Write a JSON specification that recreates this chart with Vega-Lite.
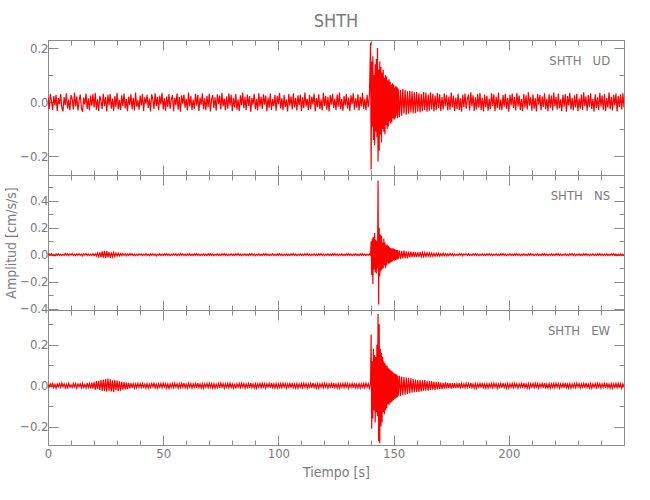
{
"$schema": "https://vega.github.io/schema/vega-lite/v6.json",
"background": "white",
"padding": {"left": 4, "top": 12, "right": 5, "bottom": 5},
"spacing": 0,
"bounds": "flush",
"data": {"values": [
{"t":0,"u":0.018,"n":-0.004,"e":0.005},{"t":0.5,"u":-0.026,"n":0.006,"e":-0.007},{"t":1,"u":0.031,"n":-0.003,"e":0.009},{"t":1.5,"u":0.004,"n":0.008,"e":-0.004},{"t":2,"u":-0.029,"n":-0.007,"e":0.011},{"t":2.5,"u":0.022,"n":0.002,"e":-0.009},{"t":3,"u":-0.012,"n":-0.009,"e":0.006},{"t":3.5,"u":0.027,"n":0.005,"e":-0.012},{"t":4,"u":-0.033,"n":-0.002,"e":0.008},{"t":4.5,"u":0.015,"n":0.007,"e":-0.005},
{"t":5,"u":-0.008,"n":-0.006,"e":0.010},{"t":5.5,"u":0.030,"n":0.004,"e":-0.008},{"t":6,"u":-0.021,"n":-0.008,"e":0.013},{"t":6.5,"u":-0.034,"n":0.003,"e":-0.006},{"t":7,"u":0.019,"n":-0.005,"e":0.009},{"t":7.5,"u":-0.011,"n":0.009,"e":-0.011},{"t":8,"u":0.033,"n":-0.004,"e":0.007},{"t":8.5,"u":-0.024,"n":0.006,"e":-0.010},{"t":9,"u":0.009,"n":-0.007,"e":0.012},{"t":9.5,"u":-0.030,"n":0.005,"e":-0.007},
{"t":10,"u":0.026,"n":-0.003,"e":0.004},{"t":10.5,"u":0.012,"n":0.008,"e":-0.009},{"t":11,"u":-0.027,"n":-0.006,"e":0.011},{"t":11.5,"u":0.035,"n":0.003,"e":-0.006},{"t":12,"u":-0.016,"n":-0.008,"e":0.010},{"t":12.5,"u":0.021,"n":0.006,"e":-0.012},{"t":13,"u":-0.031,"n":-0.004,"e":0.008},{"t":13.5,"u":0.006,"n":0.007,"e":-0.004},{"t":14,"u":0.028,"n":-0.005,"e":0.009},{"t":14.5,"u":-0.022,"n":0.004,"e":-0.010},
{"t":15,"u":-0.036,"n":-0.009,"e":0.012},{"t":15.5,"u":0.017,"n":0.006,"e":-0.008},{"t":16,"u":-0.009,"n":-0.003,"e":0.006},{"t":16.5,"u":0.032,"n":0.008,"e":-0.011},{"t":17,"u":-0.025,"n":-0.006,"e":0.013},{"t":17.5,"u":0.014,"n":0.005,"e":-0.009},{"t":18,"u":-0.030,"n":-0.007,"e":0.010},{"t":18.5,"u":0.024,"n":0.004,"e":-0.013},{"t":19,"u":-0.013,"n":-0.006,"e":0.015},{"t":19.5,"u":0.029,"n":0.007,"e":-0.014},
{"t":20,"u":-0.020,"n":-0.009,"e":0.018},{"t":20.5,"u":0.034,"n":0.006,"e":-0.020},{"t":21,"u":-0.028,"n":-0.010,"e":0.022},{"t":21.5,"u":0.010,"n":0.012,"e":-0.017},{"t":22,"u":-0.033,"n":-0.014,"e":0.024},{"t":22.5,"u":0.023,"n":0.017,"e":-0.021},{"t":23,"u":0.005,"n":-0.020,"e":0.028},{"t":23.5,"u":-0.026,"n":0.024,"e":-0.025},{"t":24,"u":0.031,"n":-0.022,"e":0.030},{"t":24.5,"u":-0.015,"n":0.029,"e":-0.027},
{"t":25,"u":0.019,"n":-0.025,"e":0.033},{"t":25.5,"u":-0.035,"n":0.027,"e":-0.030},{"t":26,"u":0.027,"n":-0.021,"e":0.035},{"t":26.5,"u":-0.011,"n":0.019,"e":-0.024},{"t":27,"u":0.030,"n":-0.023,"e":0.031},{"t":27.5,"u":-0.024,"n":0.017,"e":-0.028},{"t":28,"u":0.013,"n":-0.015,"e":0.026},{"t":28.5,"u":-0.032,"n":0.016,"e":-0.032},{"t":29,"u":0.022,"n":-0.013,"e":0.029},{"t":29.5,"u":-0.018,"n":0.012,"e":-0.022},
{"t":30,"u":0.034,"n":-0.010,"e":0.025},{"t":30.5,"u":-0.027,"n":0.011,"e":-0.027},{"t":31,"u":0.008,"n":-0.009,"e":0.021},{"t":31.5,"u":-0.029,"n":0.008,"e":-0.024},{"t":32,"u":0.025,"n":-0.007,"e":0.019},{"t":32.5,"u":-0.014,"n":0.009,"e":-0.020},{"t":33,"u":0.032,"n":-0.006,"e":0.017},{"t":33.5,"u":-0.023,"n":0.007,"e":-0.018},{"t":34,"u":0.011,"n":-0.008,"e":0.015},{"t":34.5,"u":-0.034,"n":0.005,"e":-0.016},
{"t":35,"u":0.020,"n":-0.006,"e":0.014},{"t":35.5,"u":-0.010,"n":0.008,"e":-0.013},{"t":36,"u":0.029,"n":-0.004,"e":0.012},{"t":36.5,"u":-0.026,"n":0.006,"e":-0.011},{"t":37,"u":0.016,"n":-0.007,"e":0.010},{"t":37.5,"u":-0.031,"n":0.005,"e":-0.012},{"t":38,"u":0.035,"n":-0.008,"e":0.009},{"t":38.5,"u":-0.017,"n":0.004,"e":-0.010},{"t":39,"u":0.007,"n":-0.006,"e":0.011},{"t":39.5,"u":-0.028,"n":0.007,"e":-0.008},
{"t":40,"u":0.024,"n":-0.003,"e":0.010},{"t":40.5,"u":-0.012,"n":0.006,"e":-0.009},{"t":41,"u":0.031,"n":-0.007,"e":0.012},{"t":41.5,"u":-0.033,"n":0.004,"e":-0.007},{"t":42,"u":0.018,"n":-0.005,"e":0.008},{"t":42.5,"u":-0.006,"n":0.008,"e":-0.011},{"t":43,"u":0.027,"n":-0.006,"e":0.010},{"t":43.5,"u":-0.022,"n":0.003,"e":-0.012},{"t":44,"u":0.013,"n":-0.008,"e":0.007},{"t":44.5,"u":-0.035,"n":0.006,"e":-0.009},
{"t":45,"u":0.029,"n":-0.004,"e":0.011},{"t":45.5,"u":0.010,"n":0.007,"e":-0.006},{"t":46,"u":-0.025,"n":-0.006,"e":0.012},{"t":46.5,"u":0.033,"n":0.005,"e":-0.010},{"t":47,"u":-0.015,"n":-0.009,"e":0.008},{"t":47.5,"u":0.020,"n":0.004,"e":-0.012},{"t":48,"u":-0.030,"n":-0.005,"e":0.009},{"t":48.5,"u":0.024,"n":0.008,"e":-0.008},{"t":49,"u":-0.009,"n":-0.006,"e":0.011},{"t":49.5,"u":0.034,"n":0.003,"e":-0.010},
{"t":50,"u":-0.027,"n":-0.007,"e":0.012},{"t":50.5,"u":0.014,"n":0.006,"e":-0.007},{"t":51,"u":-0.032,"n":-0.004,"e":0.010},{"t":51.5,"u":0.021,"n":0.008,"e":-0.011},{"t":52,"u":-0.018,"n":-0.006,"e":0.008},{"t":52.5,"u":0.030,"n":0.005,"e":-0.013},{"t":53,"u":-0.024,"n":-0.008,"e":0.009},{"t":53.5,"u":0.008,"n":0.004,"e":-0.008},{"t":54,"u":0.026,"n":-0.005,"e":0.011},{"t":54.5,"u":-0.034,"n":0.007,"e":-0.010},
{"t":55,"u":0.016,"n":-0.003,"e":0.012},{"t":55.5,"u":-0.011,"n":0.006,"e":-0.007},{"t":56,"u":0.032,"n":-0.008,"e":0.009},{"t":56.5,"u":-0.028,"n":0.005,"e":-0.012},{"t":57,"u":0.019,"n":-0.006,"e":0.010},{"t":57.5,"u":-0.036,"n":0.008,"e":-0.009},{"t":58,"u":0.025,"n":-0.004,"e":0.011},{"t":58.5,"u":-0.007,"n":0.007,"e":-0.008},{"t":59,"u":0.028,"n":-0.006,"e":0.013},{"t":59.5,"u":-0.021,"n":0.004,"e":-0.010},
{"t":60,"u":0.012,"n":-0.008,"e":0.008},{"t":60.5,"u":-0.031,"n":0.006,"e":-0.011},{"t":61,"u":0.035,"n":-0.005,"e":0.012},{"t":61.5,"u":-0.016,"n":0.008,"e":-0.007},{"t":62,"u":0.022,"n":-0.006,"e":0.010},{"t":62.5,"u":-0.029,"n":0.003,"e":-0.012},{"t":63,"u":0.009,"n":-0.007,"e":0.009},{"t":63.5,"u":-0.025,"n":0.006,"e":-0.008},{"t":64,"u":0.030,"n":-0.004,"e":0.011},{"t":64.5,"u":-0.013,"n":0.008,"e":-0.010},
{"t":65,"u":0.027,"n":-0.006,"e":0.013},{"t":65.5,"u":-0.033,"n":0.005,"e":-0.009},{"t":66,"u":0.017,"n":-0.008,"e":0.008},{"t":66.5,"u":-0.010,"n":0.004,"e":-0.011},{"t":67,"u":0.033,"n":-0.005,"e":0.010},{"t":67.5,"u":-0.026,"n":0.007,"e":-0.012},{"t":68,"u":0.014,"n":-0.006,"e":0.009},{"t":68.5,"u":-0.030,"n":0.003,"e":-0.007},{"t":69,"u":0.023,"n":-0.007,"e":0.011},{"t":69.5,"u":-0.019,"n":0.006,"e":-0.010},
{"t":70,"u":0.031,"n":-0.004,"e":0.012},{"t":70.5,"u":-0.035,"n":0.008,"e":-0.008},{"t":71,"u":0.011,"n":-0.006,"e":0.010},{"t":71.5,"u":0.026,"n":0.005,"e":-0.011},{"t":72,"u":-0.022,"n":-0.008,"e":0.009},{"t":72.5,"u":0.018,"n":0.004,"e":-0.012},{"t":73,"u":-0.032,"n":-0.005,"e":0.008},{"t":73.5,"u":0.029,"n":0.007,"e":-0.009},{"t":74,"u":-0.008,"n":-0.006,"e":0.011},{"t":74.5,"u":0.024,"n":0.003,"e":-0.010},
{"t":75,"u":-0.027,"n":-0.007,"e":0.013},{"t":75.5,"u":0.034,"n":0.006,"e":-0.007},{"t":76,"u":-0.015,"n":-0.004,"e":0.010},{"t":76.5,"u":0.013,"n":0.008,"e":-0.012},{"t":77,"u":-0.030,"n":-0.006,"e":0.009},{"t":77.5,"u":0.021,"n":0.005,"e":-0.008},{"t":78,"u":-0.024,"n":-0.008,"e":0.011},{"t":78.5,"u":0.032,"n":0.004,"e":-0.010},{"t":79,"u":-0.012,"n":-0.005,"e":0.012},{"t":79.5,"u":0.027,"n":0.007,"e":-0.009},
{"t":80,"u":-0.034,"n":-0.006,"e":0.008},{"t":80.5,"u":0.016,"n":0.003,"e":-0.011},{"t":81,"u":-0.020,"n":-0.007,"e":0.010},{"t":81.5,"u":0.030,"n":0.006,"e":-0.013},{"t":82,"u":-0.028,"n":-0.004,"e":0.009},{"t":82.5,"u":0.010,"n":0.008,"e":-0.008},{"t":83,"u":-0.033,"n":-0.006,"e":0.011},{"t":83.5,"u":0.025,"n":0.005,"e":-0.010},{"t":84,"u":-0.011,"n":-0.008,"e":0.012},{"t":84.5,"u":0.035,"n":0.004,"e":-0.007},
{"t":85,"u":-0.023,"n":-0.005,"e":0.010},{"t":85.5,"u":0.019,"n":0.007,"e":-0.012},{"t":86,"u":-0.029,"n":-0.006,"e":0.009},{"t":86.5,"u":0.028,"n":0.003,"e":-0.008},{"t":87,"u":-0.014,"n":-0.007,"e":0.011},{"t":87.5,"u":0.022,"n":0.006,"e":-0.010},{"t":88,"u":-0.036,"n":-0.004,"e":0.013},{"t":88.5,"u":0.015,"n":0.008,"e":-0.009},{"t":89,"u":-0.009,"n":-0.006,"e":0.008},{"t":89.5,"u":0.031,"n":0.005,"e":-0.011},
{"t":90,"u":-0.026,"n":-0.008,"e":0.010},{"t":90.5,"u":0.012,"n":0.004,"e":-0.012},{"t":91,"u":-0.031,"n":-0.005,"e":0.009},{"t":91.5,"u":0.033,"n":0.007,"e":-0.008},{"t":92,"u":-0.017,"n":-0.006,"e":0.011},{"t":92.5,"u":0.020,"n":0.003,"e":-0.010},{"t":93,"u":-0.025,"n":-0.007,"e":0.012},{"t":93.5,"u":0.029,"n":0.006,"e":-0.007},{"t":94,"u":-0.010,"n":-0.004,"e":0.010},{"t":94.5,"u":0.024,"n":0.008,"e":-0.012},
{"t":95,"u":-0.034,"n":-0.006,"e":0.009},{"t":95.5,"u":0.017,"n":0.005,"e":-0.008},{"t":96,"u":-0.021,"n":-0.008,"e":0.011},{"t":96.5,"u":0.032,"n":0.004,"e":-0.010},{"t":97,"u":-0.029,"n":-0.005,"e":0.013},{"t":97.5,"u":0.011,"n":0.007,"e":-0.009},{"t":98,"u":-0.015,"n":-0.006,"e":0.008},{"t":98.5,"u":0.027,"n":0.003,"e":-0.011},{"t":99,"u":-0.032,"n":-0.007,"e":0.010},{"t":99.5,"u":0.023,"n":0.006,"e":-0.012},
{"t":100,"u":-0.008,"n":-0.004,"e":0.009},{"t":100.5,"u":0.034,"n":0.008,"e":-0.008},{"t":101,"u":-0.024,"n":-0.006,"e":0.011},{"t":101.5,"u":0.014,"n":0.005,"e":-0.010},{"t":102,"u":-0.030,"n":-0.008,"e":0.012},{"t":102.5,"u":0.026,"n":0.004,"e":-0.007},{"t":103,"u":-0.018,"n":-0.005,"e":0.010},{"t":103.5,"u":0.009,"n":0.007,"e":-0.012},{"t":104,"u":-0.035,"n":-0.006,"e":0.009},{"t":104.5,"u":0.030,"n":0.003,"e":-0.008},
{"t":105,"u":-0.013,"n":-0.007,"e":0.011},{"t":105.5,"u":0.021,"n":0.006,"e":-0.010},{"t":106,"u":-0.027,"n":-0.004,"e":0.013},{"t":106.5,"u":0.033,"n":0.008,"e":-0.009},{"t":107,"u":-0.020,"n":-0.006,"e":0.008},{"t":107.5,"u":0.016,"n":0.005,"e":-0.011},{"t":108,"u":-0.031,"n":-0.008,"e":0.010},{"t":108.5,"u":0.025,"n":0.004,"e":-0.012},{"t":109,"u":-0.011,"n":-0.005,"e":0.009},{"t":109.5,"u":0.028,"n":0.007,"e":-0.008},
{"t":110,"u":-0.033,"n":-0.006,"e":0.011},{"t":110.5,"u":0.018,"n":0.003,"e":-0.010},{"t":111,"u":-0.023,"n":-0.007,"e":0.012},{"t":111.5,"u":0.035,"n":0.006,"e":-0.007},{"t":112,"u":-0.016,"n":-0.004,"e":0.010},{"t":112.5,"u":0.012,"n":0.008,"e":-0.012},{"t":113,"u":-0.029,"n":-0.006,"e":0.009},{"t":113.5,"u":0.027,"n":0.005,"e":-0.008},{"t":114,"u":-0.026,"n":-0.008,"e":0.011},{"t":114.5,"u":0.020,"n":0.004,"e":-0.010},
{"t":115,"u":-0.009,"n":-0.005,"e":0.013},{"t":115.5,"u":0.032,"n":0.007,"e":-0.009},{"t":116,"u":-0.034,"n":-0.006,"e":0.008},{"t":116.5,"u":0.015,"n":0.003,"e":-0.011},{"t":117,"u":-0.019,"n":-0.007,"e":0.010},{"t":117.5,"u":0.029,"n":0.006,"e":-0.012},{"t":118,"u":-0.025,"n":-0.004,"e":0.009},{"t":118.5,"u":0.010,"n":0.008,"e":-0.008},{"t":119,"u":-0.031,"n":-0.006,"e":0.011},{"t":119.5,"u":0.034,"n":0.005,"e":-0.010},
{"t":120,"u":-0.014,"n":-0.008,"e":0.012},{"t":120.5,"u":0.023,"n":0.004,"e":-0.007},{"t":121,"u":-0.028,"n":-0.005,"e":0.010},{"t":121.5,"u":0.019,"n":0.007,"e":-0.012},{"t":122,"u":-0.035,"n":-0.006,"e":0.009},{"t":122.5,"u":0.026,"n":0.003,"e":-0.008},{"t":123,"u":-0.010,"n":-0.007,"e":0.011},{"t":123.5,"u":0.031,"n":0.006,"e":-0.010},{"t":124,"u":-0.022,"n":-0.004,"e":0.013},{"t":124.5,"u":0.013,"n":0.008,"e":-0.009},
{"t":125,"u":-0.030,"n":-0.006,"e":0.008},{"t":125.5,"u":0.028,"n":0.005,"e":-0.011},{"t":126,"u":-0.017,"n":-0.008,"e":0.010},{"t":126.5,"u":0.035,"n":0.004,"e":-0.012},{"t":127,"u":-0.026,"n":-0.005,"e":0.009},{"t":127.5,"u":0.011,"n":0.007,"e":-0.008},{"t":128,"u":-0.032,"n":-0.006,"e":0.011},{"t":128.5,"u":0.022,"n":0.003,"e":-0.010},{"t":129,"u":-0.013,"n":-0.007,"e":0.012},{"t":129.5,"u":0.030,"n":0.006,"e":-0.007},
{"t":130,"u":-0.024,"n":-0.004,"e":0.010},{"t":130.5,"u":0.017,"n":0.008,"e":-0.012},{"t":131,"u":-0.034,"n":-0.006,"e":0.009},{"t":131.5,"u":0.025,"n":0.005,"e":-0.008},{"t":132,"u":-0.008,"n":-0.008,"e":0.011},{"t":132.5,"u":0.033,"n":0.004,"e":-0.010},{"t":133,"u":-0.028,"n":-0.005,"e":0.013},{"t":133.5,"u":0.014,"n":0.007,"e":-0.009},{"t":134,"u":-0.021,"n":-0.006,"e":0.008},{"t":134.5,"u":0.029,"n":0.003,"e":-0.011},
{"t":135,"u":-0.031,"n":-0.007,"e":0.010},{"t":135.5,"u":0.020,"n":0.006,"e":-0.012},{"t":136,"u":-0.016,"n":-0.004,"e":0.009},{"t":136.5,"u":0.034,"n":0.008,"e":-0.008},{"t":137,"u":-0.025,"n":-0.006,"e":0.011},{"t":137.5,"u":0.012,"n":0.005,"e":-0.010},{"t":138,"u":-0.030,"n":-0.008,"e":0.012},{"t":138.5,"u":0.027,"n":0.004,"e":-0.007},{"t":139,"u":-0.019,"n":-0.005,"e":0.010},{"t":139.5,"u":0.023,"n":0.007,"e":-0.012},
{"t":140,"u":0.220,"n":-0.005,"e":0.008},{"t":140.25,"u":-0.250,"n":0.100,"e":0.250},{"t":140.5,"u":0.150,"n":-0.150,"e":-0.210},{"t":140.75,"u":-0.090,"n":0.120,"e":0.120},{"t":141,"u":0.170,"n":-0.220,"e":-0.160},{"t":141.25,"u":-0.140,"n":0.130,"e":0.180},{"t":141.5,"u":0.100,"n":-0.110,"e":-0.120},{"t":141.75,"u":-0.160,"n":0.160,"e":0.150},
{"t":142,"u":0.140,"n":-0.130,"e":-0.180},{"t":142.25,"u":-0.110,"n":0.110,"e":0.140},{"t":142.5,"u":0.160,"n":-0.140,"e":-0.130},{"t":142.75,"u":-0.130,"n":0.100,"e":0.200},{"t":143,"u":0.200,"n":-0.100,"e":-0.150},{"t":143.25,"u":-0.220,"n":0.550,"e":0.350},{"t":143.5,"u":0.120,"n":-0.370,"e":-0.270},{"t":143.75,"u":-0.180,"n":0.200,"e":0.300},
{"t":144,"u":0.150,"n":-0.160,"e":-0.280},{"t":144.25,"u":-0.120,"n":0.150,"e":0.180},{"t":144.5,"u":0.130,"n":-0.120,"e":-0.200},{"t":144.75,"u":-0.150,"n":0.140,"e":0.160},{"t":145,"u":0.110,"n":-0.110,"e":-0.180},{"t":145.25,"u":-0.100,"n":0.090,"e":0.140},{"t":145.5,"u":0.120,"n":-0.100,"e":-0.130},{"t":145.75,"u":-0.110,"n":0.120,"e":0.120},
{"t":146,"u":0.090,"n":-0.080,"e":-0.140},{"t":146.25,"u":-0.120,"n":0.090,"e":0.110},{"t":146.5,"u":0.100,"n":-0.100,"e":-0.120},{"t":146.75,"u":-0.085,"n":0.070,"e":0.100},{"t":147,"u":0.095,"n":-0.080,"e":-0.110},{"t":147.25,"u":-0.100,"n":0.075,"e":0.095},{"t":147.5,"u":0.080,"n":-0.060,"e":-0.090},{"t":147.75,"u":-0.090,"n":0.065,"e":0.085},
{"t":148,"u":0.085,"n":-0.070,"e":-0.095},{"t":148.25,"u":-0.070,"n":0.055,"e":0.080},{"t":148.5,"u":0.075,"n":-0.060,"e":-0.085},{"t":148.75,"u":-0.080,"n":0.050,"e":0.075},{"t":149,"u":0.065,"n":-0.055,"e":-0.080},{"t":149.25,"u":-0.075,"n":0.045,"e":0.070},{"t":149.5,"u":0.070,"n":-0.050,"e":-0.075},{"t":149.75,"u":-0.060,"n":0.048,"e":0.065},
{"t":150,"u":0.065,"n":-0.040,"e":-0.070},{"t":150.25,"u":-0.065,"n":0.042,"e":0.060},{"t":150.5,"u":0.055,"n":-0.045,"e":-0.065},{"t":150.75,"u":-0.060,"n":0.038,"e":0.058},{"t":151,"u":0.060,"n":-0.040,"e":-0.060},{"t":151.25,"u":-0.050,"n":0.035,"e":0.055},{"t":151.5,"u":0.055,"n":-0.036,"e":-0.057},{"t":151.75,"u":-0.060,"n":0.034,"e":0.050},
{"t":152,"u":0.050,"n":-0.032,"e":-0.052},{"t":152.5,"u":-0.055,"n":0.030,"e":0.048},{"t":153,"u":0.045,"n":-0.032,"e":-0.050},{"t":153.5,"u":-0.050,"n":0.028,"e":0.045},{"t":154,"u":0.048,"n":-0.027,"e":-0.046},{"t":154.5,"u":-0.042,"n":0.030,"e":0.042},{"t":155,"u":0.045,"n":-0.025,"e":-0.044},{"t":155.5,"u":-0.047,"n":0.024,"e":0.040},
{"t":156,"u":0.040,"n":-0.026,"e":-0.041},{"t":156.5,"u":-0.043,"n":0.022,"e":0.038},{"t":157,"u":0.042,"n":-0.021,"e":-0.037},{"t":157.5,"u":-0.038,"n":0.023,"e":0.036},{"t":158,"u":0.040,"n":-0.019,"e":-0.034},{"t":158.5,"u":-0.041,"n":0.020,"e":0.033},{"t":159,"u":0.036,"n":-0.018,"e":-0.032},{"t":159.5,"u":-0.040,"n":0.019,"e":0.030},
{"t":160,"u":0.037,"n":-0.017,"e":-0.031},{"t":160.5,"u":-0.036,"n":0.017,"e":0.029},{"t":161,"u":0.033,"n":-0.016,"e":-0.030},{"t":161.5,"u":-0.038,"n":0.018,"e":0.027},{"t":162,"u":0.030,"n":-0.015,"e":-0.028},{"t":162.5,"u":-0.034,"n":0.016,"e":0.026},{"t":163,"u":0.037,"n":-0.014,"e":-0.025},{"t":163.5,"u":-0.029,"n":0.015,"e":0.027},{"t":164,"u":0.035,"n":-0.013,"e":-0.024},{"t":164.5,"u":-0.036,"n":0.014,"e":0.023},
{"t":165,"u":0.028,"n":-0.012,"e":-0.025},{"t":165.5,"u":-0.032,"n":0.013,"e":0.022},{"t":166,"u":0.036,"n":-0.012,"e":-0.021},{"t":166.5,"u":-0.027,"n":0.011,"e":0.023},{"t":167,"u":0.031,"n":-0.012,"e":-0.020},{"t":167.5,"u":-0.035,"n":0.010,"e":0.019},{"t":168,"u":0.024,"n":-0.011,"e":-0.021},{"t":168.5,"u":-0.030,"n":0.010,"e":0.018},{"t":169,"u":0.034,"n":-0.009,"e":-0.017},{"t":169.5,"u":-0.022,"n":0.011,"e":0.019},
{"t":170,"u":0.029,"n":-0.010,"e":-0.016},{"t":170.5,"u":-0.033,"n":0.008,"e":0.015},{"t":171,"u":0.019,"n":-0.009,"e":-0.017},{"t":171.5,"u":-0.027,"n":0.010,"e":0.014},{"t":172,"u":0.032,"n":-0.008,"e":-0.015},{"t":172.5,"u":-0.015,"n":0.007,"e":0.016},{"t":173,"u":0.026,"n":-0.009,"e":-0.013},{"t":173.5,"u":-0.031,"n":0.006,"e":0.014},{"t":174,"u":0.021,"n":-0.008,"e":-0.012},{"t":174.5,"u":-0.028,"n":0.009,"e":0.013},
{"t":175,"u":0.035,"n":-0.005,"e":-0.014},{"t":175.5,"u":-0.020,"n":0.007,"e":0.012},{"t":176,"u":0.024,"n":-0.008,"e":-0.011},{"t":176.5,"u":-0.033,"n":0.005,"e":0.013},{"t":177,"u":0.017,"n":-0.007,"e":-0.012},{"t":177.5,"u":-0.025,"n":0.004,"e":0.010},{"t":178,"u":0.031,"n":-0.006,"e":-0.011},{"t":178.5,"u":-0.029,"n":0.008,"e":0.012},{"t":179,"u":0.014,"n":-0.003,"e":-0.009},{"t":179.5,"u":-0.036,"n":0.006,"e":0.011},
{"t":180,"u":0.027,"n":-0.009,"e":-0.012},{"t":180.5,"u":-0.018,"n":0.005,"e":0.009},{"t":181,"u":0.032,"n":-0.004,"e":-0.010},{"t":181.5,"u":-0.024,"n":0.007,"e":0.012},{"t":182,"u":0.010,"n":-0.006,"e":-0.008},{"t":182.5,"u":0.028,"n":0.008,"e":0.011},{"t":183,"u":-0.031,"n":-0.005,"e":-0.010},{"t":183.5,"u":0.036,"n":0.003,"e":0.013},{"t":184,"u":-0.015,"n":-0.007,"e":-0.009},{"t":184.5,"u":0.025,"n":0.006,"e":0.008},
{"t":185,"u":-0.033,"n":-0.004,"e":-0.011},{"t":185.5,"u":0.018,"n":0.008,"e":0.010},{"t":186,"u":-0.027,"n":-0.006,"e":-0.012},{"t":186.5,"u":0.030,"n":0.005,"e":0.009},{"t":187,"u":-0.021,"n":-0.008,"e":-0.008},{"t":187.5,"u":0.034,"n":0.004,"e":0.011},{"t":188,"u":-0.029,"n":-0.005,"e":-0.010},{"t":188.5,"u":0.016,"n":0.007,"e":0.013},{"t":189,"u":-0.035,"n":-0.006,"e":-0.009},{"t":189.5,"u":0.028,"n":0.003,"e":0.008},
{"t":190,"u":-0.019,"n":-0.007,"e":-0.011},{"t":190.5,"u":0.023,"n":0.006,"e":0.010},{"t":191,"u":-0.032,"n":-0.004,"e":-0.012},{"t":191.5,"u":0.012,"n":0.008,"e":0.009},{"t":192,"u":-0.026,"n":-0.006,"e":-0.008},{"t":192.5,"u":0.033,"n":0.005,"e":0.011},{"t":193,"u":-0.014,"n":-0.008,"e":-0.010},{"t":193.5,"u":0.029,"n":0.004,"e":0.012},{"t":194,"u":-0.034,"n":-0.005,"e":-0.007},{"t":194.5,"u":0.020,"n":0.007,"e":0.010},
{"t":195,"u":-0.023,"n":-0.006,"e":-0.012},{"t":195.5,"u":0.035,"n":0.003,"e":0.009},{"t":196,"u":-0.028,"n":-0.007,"e":-0.008},{"t":196.5,"u":0.009,"n":0.006,"e":0.011},{"t":197,"u":-0.030,"n":-0.004,"e":-0.010},{"t":197.5,"u":0.026,"n":0.008,"e":0.013},{"t":198,"u":-0.017,"n":-0.006,"e":-0.009},{"t":198.5,"u":0.031,"n":0.005,"e":0.008},{"t":199,"u":-0.025,"n":-0.008,"e":-0.011},{"t":199.5,"u":0.015,"n":0.004,"e":0.010},
{"t":200,"u":-0.036,"n":-0.005,"e":-0.012},{"t":200.5,"u":0.027,"n":0.007,"e":0.009},{"t":201,"u":-0.012,"n":-0.006,"e":-0.008},{"t":201.5,"u":0.032,"n":0.003,"e":0.011},{"t":202,"u":-0.022,"n":-0.007,"e":-0.010},{"t":202.5,"u":0.019,"n":0.006,"e":0.012},{"t":203,"u":-0.031,"n":-0.004,"e":-0.007},{"t":203.5,"u":0.034,"n":0.008,"e":0.010},{"t":204,"u":-0.016,"n":-0.006,"e":-0.012},{"t":204.5,"u":0.024,"n":0.005,"e":0.009},
{"t":205,"u":-0.029,"n":-0.008,"e":-0.008},{"t":205.5,"u":0.011,"n":0.004,"e":0.011},{"t":206,"u":-0.033,"n":-0.005,"e":-0.010},{"t":206.5,"u":0.030,"n":0.007,"e":0.013},{"t":207,"u":-0.020,"n":-0.006,"e":-0.009},{"t":207.5,"u":0.025,"n":0.003,"e":0.008},{"t":208,"u":-0.027,"n":-0.007,"e":-0.011},{"t":208.5,"u":0.036,"n":0.006,"e":0.010},{"t":209,"u":-0.013,"n":-0.004,"e":-0.012},{"t":209.5,"u":0.018,"n":0.008,"e":0.009},
{"t":210,"u":-0.032,"n":-0.006,"e":-0.008},{"t":210.5,"u":0.028,"n":0.005,"e":0.011},{"t":211,"u":-0.024,"n":-0.008,"e":-0.010},{"t":211.5,"u":0.014,"n":0.004,"e":0.012},{"t":212,"u":-0.035,"n":-0.005,"e":-0.007},{"t":212.5,"u":0.031,"n":0.007,"e":0.010},{"t":213,"u":-0.010,"n":-0.006,"e":-0.012},{"t":213.5,"u":0.026,"n":0.003,"e":0.009},{"t":214,"u":-0.030,"n":-0.007,"e":-0.008},{"t":214.5,"u":0.021,"n":0.006,"e":0.011},
{"t":215,"u":-0.018,"n":-0.004,"e":-0.010},{"t":215.5,"u":0.033,"n":0.008,"e":0.013},{"t":216,"u":-0.026,"n":-0.006,"e":-0.009},{"t":216.5,"u":0.012,"n":0.005,"e":0.008},{"t":217,"u":-0.034,"n":-0.008,"e":-0.011},{"t":217.5,"u":0.029,"n":0.004,"e":0.010},{"t":218,"u":-0.021,"n":-0.005,"e":-0.012},{"t":218.5,"u":0.024,"n":0.007,"e":0.009},{"t":219,"u":-0.031,"n":-0.006,"e":-0.008},{"t":219.5,"u":0.035,"n":0.003,"e":0.011},
{"t":220,"u":-0.015,"n":-0.007,"e":-0.010},{"t":220.5,"u":0.019,"n":0.006,"e":0.012},{"t":221,"u":-0.028,"n":-0.004,"e":-0.007},{"t":221.5,"u":0.032,"n":0.008,"e":0.010},{"t":222,"u":-0.023,"n":-0.006,"e":-0.012},{"t":222.5,"u":0.010,"n":0.005,"e":0.009},{"t":223,"u":-0.033,"n":-0.008,"e":-0.008},{"t":223.5,"u":0.027,"n":0.004,"e":0.011},{"t":224,"u":-0.017,"n":-0.005,"e":-0.010},{"t":224.5,"u":0.030,"n":0.007,"e":0.013},
{"t":225,"u":-0.036,"n":-0.006,"e":-0.009},{"t":225.5,"u":0.022,"n":0.003,"e":0.008},{"t":226,"u":-0.012,"n":-0.007,"e":-0.011},{"t":226.5,"u":0.034,"n":0.006,"e":0.010},{"t":227,"u":-0.027,"n":-0.004,"e":-0.012},{"t":227.5,"u":0.016,"n":0.008,"e":0.009},{"t":228,"u":-0.030,"n":-0.006,"e":-0.008},{"t":228.5,"u":0.025,"n":0.005,"e":0.011},{"t":229,"u":-0.020,"n":-0.008,"e":-0.010},{"t":229.5,"u":0.031,"n":0.004,"e":0.012},
{"t":230,"u":-0.034,"n":-0.005,"e":-0.007},{"t":230.5,"u":0.013,"n":0.007,"e":0.010},{"t":231,"u":-0.024,"n":-0.006,"e":-0.012},{"t":231.5,"u":0.028,"n":0.003,"e":0.009},{"t":232,"u":-0.029,"n":-0.007,"e":-0.008},{"t":232.5,"u":0.036,"n":0.006,"e":0.011},{"t":233,"u":-0.014,"n":-0.004,"e":-0.010},{"t":233.5,"u":0.021,"n":0.008,"e":0.013},{"t":234,"u":-0.032,"n":-0.006,"e":-0.009},{"t":234.5,"u":0.026,"n":0.005,"e":0.008},
{"t":235,"u":-0.019,"n":-0.008,"e":-0.011},{"t":235.5,"u":0.033,"n":0.004,"e":0.010},{"t":236,"u":-0.025,"n":-0.005,"e":-0.012},{"t":236.5,"u":0.011,"n":0.007,"e":0.009},{"t":237,"u":-0.035,"n":-0.006,"e":-0.008},{"t":237.5,"u":0.029,"n":0.003,"e":0.011},{"t":238,"u":-0.022,"n":-0.007,"e":-0.010},{"t":238.5,"u":0.018,"n":0.006,"e":0.012},{"t":239,"u":-0.030,"n":-0.004,"e":-0.007},{"t":239.5,"u":0.034,"n":0.008,"e":0.010},
{"t":240,"u":-0.016,"n":-0.006,"e":-0.012},{"t":240.5,"u":0.024,"n":0.005,"e":0.009},{"t":241,"u":-0.028,"n":-0.008,"e":-0.008},{"t":241.5,"u":0.030,"n":0.004,"e":0.011},{"t":242,"u":-0.033,"n":-0.005,"e":-0.010},{"t":242.5,"u":0.015,"n":0.007,"e":0.013},{"t":243,"u":-0.021,"n":-0.006,"e":-0.009},{"t":243.5,"u":0.035,"n":0.003,"e":0.008},{"t":244,"u":-0.026,"n":-0.007,"e":-0.011},{"t":244.5,"u":0.020,"n":0.006,"e":0.010},
{"t":245,"u":-0.031,"n":-0.004,"e":-0.012},{"t":245.5,"u":0.027,"n":0.008,"e":0.009},{"t":246,"u":-0.012,"n":-0.006,"e":-0.008},{"t":246.5,"u":0.032,"n":0.005,"e":0.011},{"t":247,"u":-0.035,"n":-0.008,"e":-0.010},{"t":247.5,"u":0.023,"n":0.004,"e":0.012},{"t":248,"u":-0.018,"n":-0.005,"e":-0.007},{"t":248.5,"u":0.029,"n":0.007,"e":0.010},{"t":249,"u":-0.027,"n":-0.006,"e":-0.012},{"t":249.5,"u":0.033,"n":0.003,"e":0.009},
{"t":250,"u":-0.020,"n":-0.007,"e":-0.008}
]},
"config": {
  "view": {"stroke": "#8a8a8a"},
  "axis": {
    "domainColor": "#8a8a8a", "tickColor": "#8a8a8a", "labelColor": "#7a7a7a", "titleColor": "#7a7a7a",
    "labelFont": "DejaVu Sans Condensed, DejaVu Sans, sans-serif",
    "titleFont": "DejaVu Sans Condensed, DejaVu Sans, sans-serif",
    "labelFontSize": 13, "titleFontSize": 14, "titleFontWeight": "normal",
    "grid": false, "labelOverlap": false, "labelBound": false, "labelFlush": false,
    "tickWidth": 1, "domainWidth": 1
  }
},
"vconcat": [
{
  "width": 576, "height": 135,
  "title": {"text": "SHTH", "font": "DejaVu Sans Condensed, DejaVu Sans, sans-serif", "fontSize": 18, "fontWeight": "normal", "color": "#7a7a7a", "anchor": "middle", "offset": 9},
  "layer": [
    {
      "mark": {"type": "line", "color": "#ff0000", "strokeWidth": 1.2, "clip": true},
      "encoding": {
        "x": {"field": "t", "type": "quantitative", "scale": {"domain": [0, 250], "nice": false, "zero": false},
              "axis": {"orient": "bottom", "values": [0,10,20,30,40,50,60,70,80,90,100,110,120,130,140,150,160,170,180,190,200,210,220,230,240], "labels": false, "title": null,
                       "tickSize": {"condition": {"test": "datum.value % 50 === 0", "value": -10}, "value": -5}}},
        "y": {"field": "u", "type": "quantitative", "scale": {"domain": [-0.27, 0.23], "nice": false, "zero": false},
              "axis": {"orient": "left", "values": [-0.2,-0.1,0,0.1,0.2], "title": null, "labelPadding": 10,
                       "labelExpr": "abs(round(datum.value*10)) % 2 === 0 ? format(datum.value, '.1f') : ''",
                       "tickSize": {"condition": {"test": "abs(round(datum.value*10)) % 2 === 0", "value": -10}, "value": -5}}}
      }
    },
    {
      "data": {"values": [{}]},
      "mark": {"type": "text", "align": "right", "baseline": "middle", "font": "DejaVu Sans Condensed, DejaVu Sans, sans-serif", "fontSize": 13, "color": "#7a7a7a"},
      "encoding": {
        "x": {"datum": 244, "type": "quantitative",
              "axis": {"orient": "top", "values": [0,10,20,30,40,50,60,70,80,90,100,110,120,130,140,150,160,170,180,190,200,210,220,230,240], "labels": false, "title": null,
                       "tickSize": {"condition": {"test": "datum.value % 50 === 0", "value": -10}, "value": -5}}},
        "y": {"datum": 0.152, "type": "quantitative",
              "axis": {"orient": "right", "values": [-0.2,-0.1,0,0.1,0.2], "labels": false, "title": null,
                       "tickSize": {"condition": {"test": "abs(round(datum.value*10)) % 2 === 0", "value": -10}, "value": -5}}},
        "text": {"value": "SHTH\u00a0\u00a0\u00a0UD"}
      }
    }
  ]
},
{
  "width": 576, "height": 135,
  "layer": [
    {
      "mark": {"type": "line", "color": "#ff0000", "strokeWidth": 1.2, "clip": true},
      "encoding": {
        "x": {"field": "t", "type": "quantitative", "scale": {"domain": [0, 250], "nice": false, "zero": false},
              "axis": {"orient": "bottom", "values": [0,10,20,30,40,50,60,70,80,90,100,110,120,130,140,150,160,170,180,190,200,210,220,230,240], "labels": false, "title": null,
                       "tickSize": {"condition": {"test": "datum.value % 50 === 0", "value": -10}, "value": -5}}},
        "y": {"field": "n", "type": "quantitative", "scale": {"domain": [-0.41, 0.59], "nice": false, "zero": false},
              "axis": {"orient": "left", "values": [-0.4,-0.3,-0.2,-0.1,0,0.1,0.2,0.3,0.4,0.5], "title": "Amplitud  [cm/s/s]", "titlePadding": 1, "labelPadding": 10,
                       "labelExpr": "abs(round(datum.value*10)) % 2 === 0 ? format(datum.value, '.1f') : ''",
                       "tickSize": {"condition": {"test": "abs(round(datum.value*10)) % 2 === 0", "value": -10}, "value": -5}}}
      }
    },
    {
      "data": {"values": [{}]},
      "mark": {"type": "text", "align": "right", "baseline": "middle", "font": "DejaVu Sans Condensed, DejaVu Sans, sans-serif", "fontSize": 13, "color": "#7a7a7a"},
      "encoding": {
        "x": {"datum": 244, "type": "quantitative",
              "axis": {"orient": "top", "values": [0,10,20,30,40,50,60,70,80,90,100,110,120,130,140,150,160,170,180,190,200,210,220,230,240], "labels": false, "title": null,
                       "tickSize": {"condition": {"test": "datum.value % 50 === 0", "value": -10}, "value": -5}}},
        "y": {"datum": 0.433, "type": "quantitative",
              "axis": {"orient": "right", "values": [-0.4,-0.3,-0.2,-0.1,0,0.1,0.2,0.3,0.4,0.5], "labels": false, "title": null,
                       "tickSize": {"condition": {"test": "abs(round(datum.value*10)) % 2 === 0", "value": -10}, "value": -5}}},
        "text": {"value": "SHTH\u00a0\u00a0\u00a0NS"}
      }
    }
  ]
},
{
  "width": 576, "height": 135,
  "layer": [
    {
      "mark": {"type": "line", "color": "#ff0000", "strokeWidth": 1.2, "clip": true},
      "encoding": {
        "x": {"field": "t", "type": "quantitative", "scale": {"domain": [0, 250], "nice": false, "zero": false},
              "axis": {"orient": "bottom", "values": [0,10,20,30,40,50,60,70,80,90,100,110,120,130,140,150,160,170,180,190,200,210,220,230,240], "title": "Tiempo  [s]", "titlePadding": 0, "labelPadding": 12,
                       "labelExpr": "datum.value % 50 === 0 ? datum.label : ''",
                       "tickSize": {"condition": {"test": "datum.value % 50 === 0", "value": -10}, "value": -5}}},
        "y": {"field": "e", "type": "quantitative", "scale": {"domain": [-0.29, 0.37], "nice": false, "zero": false},
              "axis": {"orient": "left", "values": [-0.2,-0.1,0,0.1,0.2,0.3], "title": null, "labelPadding": 10,
                       "labelExpr": "abs(round(datum.value*10)) % 2 === 0 ? format(datum.value, '.1f') : ''",
                       "tickSize": {"condition": {"test": "abs(round(datum.value*10)) % 2 === 0", "value": -10}, "value": -5}}}
      }
    },
    {
      "data": {"values": [{}]},
      "mark": {"type": "text", "align": "right", "baseline": "middle", "font": "DejaVu Sans Condensed, DejaVu Sans, sans-serif", "fontSize": 13, "color": "#7a7a7a"},
      "encoding": {
        "x": {"datum": 244, "type": "quantitative",
              "axis": {"orient": "top", "values": [0,10,20,30,40,50,60,70,80,90,100,110,120,130,140,150,160,170,180,190,200,210,220,230,240], "labels": false, "title": null,
                       "tickSize": {"condition": {"test": "datum.value % 50 === 0", "value": -10}, "value": -5}}},
        "y": {"datum": 0.269, "type": "quantitative",
              "axis": {"orient": "right", "values": [-0.2,-0.1,0,0.1,0.2,0.3], "labels": false, "title": null,
                       "tickSize": {"condition": {"test": "abs(round(datum.value*10)) % 2 === 0", "value": -10}, "value": -5}}},
        "text": {"value": "SHTH\u00a0\u00a0\u00a0EW"}
      }
    }
  ]
}
]
}
